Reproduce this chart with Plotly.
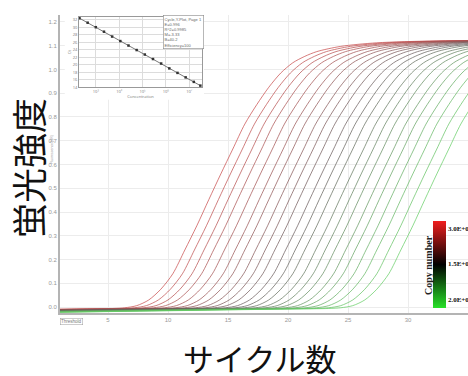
import plotly.graph_objects as go
from plotly.colors import sample_colorscale

# ---------------- data ----------------
# threshold-crossing cycle (value ~0.56) of each amplification curve
curve_ct = [14.4, 15.2, 16.0, 16.8, 17.7, 18.6, 19.4, 20.3, 21.1, 21.9, 22.8,
            23.6, 24.4, 25.3, 26.1, 26.9, 27.8, 28.6, 29.5, 30.4, 31.4, 32.4]
# amplification profile (cycles relative to its crossing point)
profile_offset = [-34, -12, -9, -8, -7, -6, -5, -4, -3, -2, -1, 0, 1, 2, 3, 4, 5,
                  6, 7, 8, 10, 13, 18, 30]
profile_value = [-0.024, -0.008, -0.006, -0.003, 0.006, 0.03, 0.075, 0.14, 0.24,
                 0.342, 0.452, 0.56, 0.665, 0.77, 0.852, 0.925, 0.985, 1.028,
                 1.055, 1.075, 1.097, 1.112, 1.12, 1.125]

x_tickvals = [5, 10, 15, 20, 25, 30, 35]
y_tickvals = [0.0, 0.1, 0.2, 0.3, 0.4, 0.5, 0.6, 0.7, 0.8, 0.9, 1.0, 1.1, 1.2]

# standard-curve inset
inset_log_conc = [2.30, 2.65, 3.00, 3.35, 3.70, 4.05, 4.40, 4.75, 5.10, 5.45,
                  5.80, 6.15, 6.50, 6.85, 7.20, 7.48]
inset_ct = [32.4, 31.2, 30.0, 28.8, 27.5, 26.3, 25.1, 23.9, 22.7, 21.5,
            20.3, 19.0, 17.8, 16.6, 15.4, 14.4]
inset_xticks = [3, 4, 5, 6, 7]
inset_xticklabels = ["10³", "10⁴", "10⁵", "10⁶", "10⁷"]
inset_yticks = [14, 16, 18, 20, 22, 24, 26, 28, 30, 32]
inset_legend_lines = ["Cycle,Y-Plot, Page 1", "E=0.996", "R^2=0.9985",
                      "M=-3.33", "B=40.2", "Efficiency=100"]

copy_labels = ["3.0E+07", "1.5E+05", "2.0E+02"]
copy_label_pos = [0.91, 0.505, 0.10]

# ---------------- figure ----------------
line_scale = [[0.0, "rgb(100,205,100)"], [0.5, "rgb(100,92,92)"], [1.0, "rgb(200,75,75)"]]
bar_scale = [[0.0, "rgb(40,225,40)"], [0.5, "rgb(0,0,0)"], [1.0, "rgb(240,30,30)"]]

n = len(curve_ct)
colors = sample_colorscale(line_scale, [1 - i / (n - 1) for i in range(n)])

fig = go.Figure()
for ct, col in zip(curve_ct, colors):
    fig.add_trace(go.Scatter(
        x=[ct + d for d in profile_offset], y=profile_value,
        mode="lines", line=dict(color=col, width=1, shape="spline", smoothing=0.8),
        opacity=0.72, showlegend=False, hoverinfo="skip"))

# dummy trace carrying the colour bar
fig.add_trace(go.Scatter(
    x=[0, 0], y=[-5, -5], mode="markers", showlegend=False, hoverinfo="skip",
    marker=dict(color=[0, 1], cmin=0, cmax=1, colorscale=bar_scale, size=1,
                showscale=True,
                colorbar=dict(x=0.914, xanchor="left", y=0.017, yanchor="bottom",
                              len=0.292, lenmode="fraction", thickness=13,
                              xpad=0, ypad=0, outlinewidth=0,
                              tickvals=copy_label_pos, ticktext=copy_labels,
                              ticks="", ticklabelposition="outside",
                              tickfont=dict(family="Liberation Serif", size=7,
                                            color="#111", weight="bold")))))

# inset standard curve
fig.add_trace(go.Scatter(
    x=inset_log_conc, y=inset_ct, xaxis="x2", yaxis="y2", mode="lines+markers",
    line=dict(color="#777", width=1),
    marker=dict(symbol="square", size=2.5, color="#333"),
    showlegend=False, hoverinfo="skip"))

fig.update_layout(
    width=468, height=376,
    margin=dict(l=60, r=0, t=15, b=63, autoexpand=False),
    paper_bgcolor="white", plot_bgcolor="white",
    hovermode=False,
    xaxis=dict(range=[1, 35], tickvals=x_tickvals, showgrid=True,
               gridcolor="#ececec", gridwidth=1, zeroline=False,
               showline=True, linecolor="#b4b4b4", linewidth=2, ticks="",
               tickfont=dict(family="Liberation Sans", size=6, color="#999")),
    yaxis=dict(range=[-0.025, 1.229], tickvals=y_tickvals, tickformat=".1f",
               showgrid=True, gridcolor="#ececec", gridwidth=1, zeroline=False,
               showline=True, linecolor="#b4b4b4", linewidth=2, ticks="",
               tickfont=dict(family="Liberation Sans", size=6, color="#999")),
    xaxis2=dict(domain=[0.0466, 0.348], anchor="y2", range=[2.28, 7.55],
                tickvals=inset_xticks, ticktext=inset_xticklabels,
                showgrid=True, gridcolor="#dcdcdc", zeroline=False,
                showline=True, mirror=True, linecolor="#999", linewidth=1,
                ticks="", tickfont=dict(size=4, color="#777"),
                title=dict(text="Concentration", font=dict(size=4, color="#777"),
                           standoff=1)),
    yaxis2=dict(domain=[0.758, 0.993], anchor="x2", range=[14.0, 32.7],
                tickvals=inset_yticks, showgrid=True, gridcolor="#dcdcdc",
                zeroline=False, showline=True, mirror=True, linecolor="#999",
                linewidth=1, ticks="", tickfont=dict(size=4, color="#777"),
                title=dict(text="Ct", font=dict(size=4, color="#777"), standoff=1)),
    shapes=[dict(type="rect", xref="x", yref="y", x0=1.4, x1=13.0, y0=0.872,
                 y1=1.24, fillcolor="white", line=dict(width=0), layer="between")],
)

annotations = [
    dict(text="蛍光強度", xref="paper", yref="paper", x=-0.078, y=0.487,
         xanchor="center", yanchor="middle", textangle=-90, showarrow=False,
         font=dict(family="Noto Sans CJK JP", size=35, color="#111")),
    dict(text="サイクル数", xref="paper", yref="paper", x=0.49, y=-0.148,
         xanchor="center", yanchor="middle", showarrow=False,
         font=dict(family="Noto Sans CJK JP", size=31, color="#111")),
    dict(text="Copy number", xref="paper", yref="paper", x=0.902, y=0.161,
         xanchor="center", yanchor="middle", textangle=-90, showarrow=False,
         font=dict(family="Liberation Serif", size=10, color="#222", weight="bold")),
    dict(text="Threshold", xref="paper", yref="paper", x=0.0, y=-0.016,
         xanchor="left", yanchor="top", showarrow=False,
         bordercolor="#999", borderwidth=0.5, borderpad=0.5, bgcolor="white",
         font=dict(family="Liberation Sans", size=4.5, color="#777")),
    dict(text="Fluorescence (dR)", xref="paper", yref="paper", x=-0.02, y=0.55,
         xanchor="center", yanchor="middle", textangle=-90, showarrow=False,
         font=dict(family="Liberation Sans", size=3.5, color="#999")),
    dict(text="<br>".join(inset_legend_lines), xref="paper", yref="paper",
         x=0.353, y=1.0, xanchor="right", yanchor="top", align="left",
         showarrow=False, bordercolor="#888", borderwidth=0.6, borderpad=1,
         bgcolor="white", font=dict(family="Liberation Sans", size=4, color="#666")),
]
fig.update_layout(annotations=annotations)

fig.write_html("out.html",
               config={"displayModeBar": False, "staticPlot": True},
               post_script="document.body.style.margin='0';"
                           "document.body.style.overflow='hidden';")
